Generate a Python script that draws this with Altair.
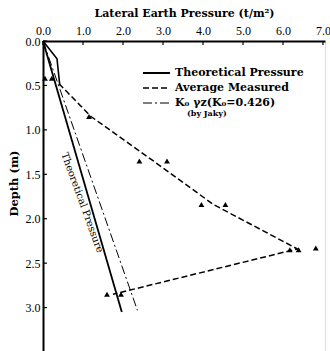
import altair as alt
import pandas as pd

# ---- data ----
theo_x = [0.0, 1.97]
theo_d = [0.0, 3.05]
k0_x = [0.0, 2.36]
k0_d = [0.0, 3.03]
meas_x = [0.40, 1.20, 2.76, 4.26, 6.36, 1.75]
meas_d = [0.48, 0.85, 1.35, 1.84, 2.34, 2.85]
top_x = [0.0, 0.35, 0.42]
top_d = [0.0, 0.20, 0.50]
tri_x = [0.05, 0.22, 1.15, 2.41, 3.10, 3.96, 4.56, 6.17, 6.39, 6.82, 1.60, 1.95]
tri_d = [0.42, 0.42, 0.85, 1.35, 1.35, 1.84, 1.84, 2.35, 2.35, 2.33, 2.85, 2.85]
x_ticks = [0.0, 1.0, 2.0, 3.0, 4.0, 5.0, 6.0, 7.0]
y_ticks = [0.0, 0.5, 1.0, 1.5, 2.0, 2.5, 3.0]

S_THEO = "Theoretical Pressure"
S_MEAS = "Average Measured"
S_K0 = "K\u2080 \u03b3z(K\u2080=0.426)"
series = [S_THEO, S_MEAS, S_K0]
dashes = [[1, 0], [6, 3], [9, 3, 2, 3]]
widths = [1.8, 1.5, 1.0]

rows = []
for name, xs, ds in [(S_THEO, theo_x, theo_d), (S_MEAS, meas_x, meas_d), (S_K0, k0_x, k0_d)]:
    for i, (a, b) in enumerate(zip(xs, ds)):
        rows.append({"series": name, "p": a, "d": b, "i": i})
lines_df = pd.DataFrame(rows)
top_df = pd.DataFrame({"p": top_x, "d": top_d, "i": list(range(len(top_x)))})
tri_df = pd.DataFrame({"p": tri_x, "d": tri_d})
xt_df = pd.DataFrame({"v": x_ticks})
yt_df = pd.DataFrame({"v": y_ticks})

FONT = "Liberation Serif"
BFONT = "DejaVu Serif"
xscale = alt.Scale(domain=[0, 7.05], nice=False, zero=False)
yscale = alt.Scale(domain=[0, 3.5], nice=False, zero=False, reverse=True)

xenc = alt.X("p:Q", scale=xscale, axis=alt.Axis(
    orient="top", values=x_ticks, format=".1f", title="Lateral Earth Pressure (t/m\u00b2)",
    grid=False, ticks=False, tickSize=0, labelPadding=4, labelFont=FONT, labelFontSize=12,
    labelColor="black", titleFont=BFONT, titleFontSize=11, titleFontWeight="bold",
    titleColor="black", titlePadding=6, domainColor="black", domainWidth=2,
    labelFlush=False))
yenc = alt.Y("d:Q", scale=yscale, axis=alt.Axis(
    orient="left", values=y_ticks, format=".1f", title="Depth (m)", grid=False,
    ticks=False, tickSize=0, labelPadding=3, labelFont=FONT, labelFontSize=12,
    labelColor="black", titleFont=BFONT, titleFontSize=11.5, titleFontWeight="bold",
    titleColor="black", titlePadding=6, titleY=142, domainColor="black", domainWidth=2,
    labelFlush=False))

base_layers = []
for name, dash, w in zip(series, dashes, widths):
    sub = lines_df[lines_df.series == name]
    enc = alt.Chart(sub).mark_line(color="black", strokeWidth=w, strokeDash=dash).encode(
        x=xenc if name == S_THEO else "p:Q",
        y=yenc if name == S_THEO else "d:Q",
        order="i:Q")
    base_layers.append(enc)

top = alt.Chart(top_df).mark_line(color="black", strokeWidth=1.6).encode(
    x="p:Q", y="d:Q", order="i:Q")

tri = alt.Chart(tri_df).mark_point(shape="triangle-up", filled=True, color="black",
                                   size=34, opacity=1).encode(x="p:Q", y="d:Q")

xt = alt.Chart(xt_df).mark_rule(color="black", strokeWidth=1.2).encode(
    x="v:Q", y=alt.value(0), y2=alt.value(4))
yt = alt.Chart(yt_df).mark_rule(color="black", strokeWidth=1.2).encode(
    y="v:Q", x=alt.value(0), x2=alt.value(4))

label = alt.Chart(pd.DataFrame({"t": ["Theoretical Pressure"], "p": [0.98], "d": [1.82]})).mark_text(
    angle=70, font=BFONT, fontSize=10, color="black").encode(x="p:Q", y="d:Q", text="t:N")

# manual legend (pixel placement inside plot area)
legend_layers = []
leg_y = [32, 47, 62]
for name, dash, w, yy in zip(series, dashes, widths, leg_y):
    legend_layers.append(alt.Chart(pd.DataFrame({"t": [name]})).mark_rule(
        color="black", strokeWidth=w, strokeDash=dash).encode(
        x=alt.value(100), x2=alt.value(127), y=alt.value(yy)))
    legend_layers.append(alt.Chart(pd.DataFrame({"t": [name]})).mark_text(
        font=BFONT, fontSize=11, fontWeight="bold", color="black", align="left",
        baseline="middle").encode(x=alt.value(132), y=alt.value(yy), text="t:N"))

jaky = alt.Chart(pd.DataFrame({"t": ["(by Jaky)"]})).mark_text(
    font=BFONT, fontSize=8, fontWeight="bold", color="black", align="left",
    baseline="middle").encode(x=alt.value(144), y=alt.value(73), text="t:N")

chart = alt.layer(*base_layers, top, tri, xt, yt, label, *legend_layers, jaky).properties(
    width=282, height=311,
    padding={"left": 43, "top": 41, "right": 5, "bottom": 0},
    autosize=alt.AutoSizeParams(type="none"),
).configure_view(stroke="black", strokeWidth=1.2).configure(background="white")

chart.save("out.html", embed_options={"renderer": "svg", "actions": False})
